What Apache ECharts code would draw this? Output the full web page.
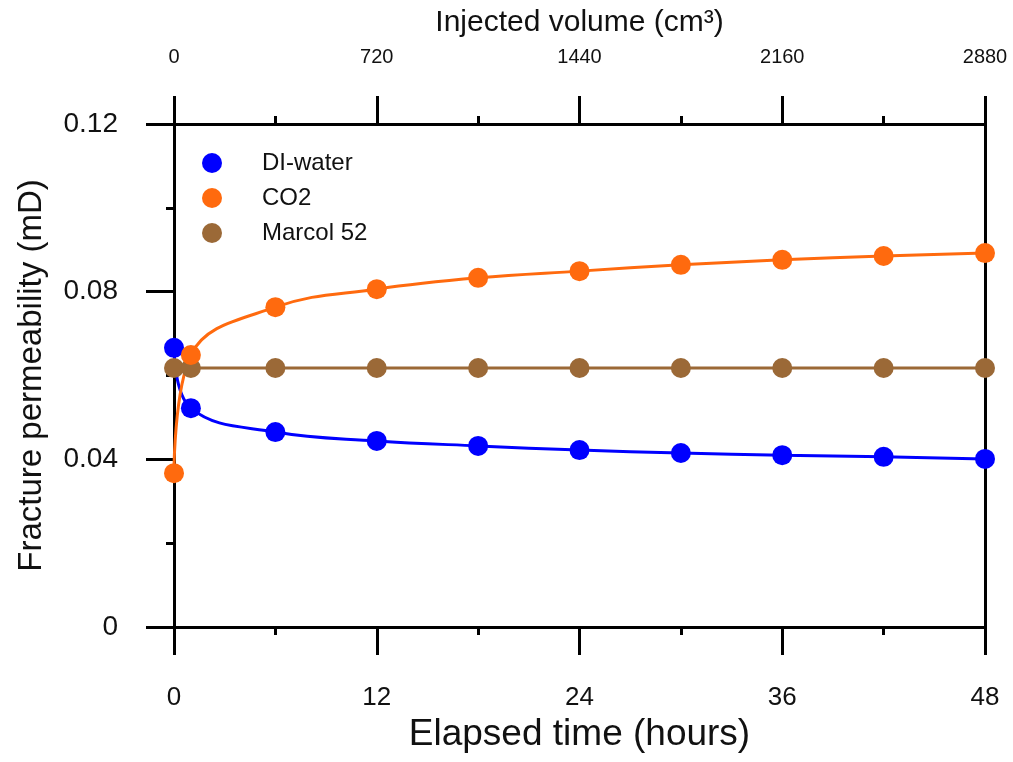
<!DOCTYPE html>
<html>
<head>
<meta charset="utf-8">
<script src="https://cdn.jsdelivr.net/npm/echarts@6/dist/echarts.min.js"></script>
<style>
  html, body { margin: 0; padding: 0; background: #fff; }
  #chart { width: 1013px; height: 762px; }
</style>
</head>
<body>
<div id="chart"></div>
<script>
// Elapsed time of each measurement (hours)
const hours = [0, 1, 6, 12, 18, 24, 30, 36, 42, 48];
// Fracture permeability (mD)
const diWater = [0.0666, 0.0522, 0.0465, 0.0444, 0.0432, 0.0422, 0.0415, 0.0410, 0.0406, 0.0401];
const co2 = [0.0367, 0.0649, 0.0763, 0.0806, 0.0833, 0.0849, 0.0864, 0.0876, 0.0885, 0.0892];
const marcol = [0.0618, 0.0618, 0.0618, 0.0618, 0.0618, 0.0618, 0.0618, 0.0618, 0.0618, 0.0618];

const FONT = '"Liberation Sans", Arial, sans-serif';
const pairs = (ys) => hours.map((h, i) => [h, ys[i]]);

const chart = echarts.init(document.getElementById('chart'));

// onZero off so the top axis stays on top instead of snapping to y = 0
const axisLine = { show: true, onZero: false, lineStyle: { color: '#000', width: 3 } };
const majorTick = { show: true, inside: false, length: 28, lineStyle: { color: '#000', width: 3 } };
const minorTick = { show: true, splitNumber: 2, length: 8, lineStyle: { color: '#000', width: 3 } };

function lineSeries(name, ys, color) {
  return {
    name,
    type: 'line',
    xAxisIndex: 0,
    yAxisIndex: 0,
    data: pairs(ys),
    smooth: 0.4,
    symbol: 'circle',
    symbolSize: 20,
    itemStyle: { color },
    lineStyle: { color, width: 3 },
    z: 3,
  };
}

chart.setOption({
  animation: false,
  grid: { left: 174, right: 28, top: 124, bottom: 135, containLabel: false },
  legend: {
    orient: 'vertical',
    left: 197,
    top: 146,
    itemGap: 11,
    icon: 'circle',
    itemWidth: 20,
    itemHeight: 20,
    textStyle: { fontFamily: FONT, fontSize: 24, color: '#111', padding: [0, 0, 0, 35] },
    data: ['DI-water', 'CO2', 'Marcol 52'],
  },
  xAxis: [
    {
      type: 'value',
      position: 'bottom',
      min: 0,
      max: 48,
      interval: 12,
      name: 'Elapsed time (hours)',
      nameLocation: 'middle',
      nameGap: 88,
      nameTextStyle: { fontFamily: FONT, fontSize: 37, color: '#111' },
      axisLine,
      axisTick: majorTick,
      minorTick,
      splitLine: { show: false },
      axisLabel: { fontFamily: FONT, fontSize: 26, color: '#111', margin: 58 },
    },
    {
      type: 'value',
      position: 'top',
      min: 0,
      max: 2880,
      interval: 720,
      name: 'Injected volume (cm³)',
      nameLocation: 'middle',
      nameGap: 86,
      nameTextStyle: { fontFamily: FONT, fontSize: 30, color: '#111' },
      axisLine,
      axisTick: majorTick,
      minorTick,
      splitLine: { show: false },
      axisLabel: {
        fontFamily: FONT,
        fontSize: 20,
        color: '#111',
        margin: 57,
        formatter: (v) => String(v),
      },
    },
  ],
  yAxis: [
    {
      type: 'value',
      position: 'left',
      min: 0,
      max: 0.12,
      interval: 0.04,
      name: 'Fracture permeability (mD)',
      nameLocation: 'middle',
      nameGap: 126,
      nameTextStyle: { fontFamily: FONT, fontSize: 33, color: '#111' },
      axisLine,
      axisTick: majorTick,
      minorTick,
      splitLine: { show: false },
      axisLabel: { fontFamily: FONT, fontSize: 28, color: '#111', margin: 56 },
    },
    {
      type: 'value',
      position: 'right',
      min: 0,
      max: 0.12,
      interval: 0.04,
      axisLine,
      axisTick: { show: false },
      axisLabel: { show: false },
      splitLine: { show: false },
    },
  ],
  series: [
    lineSeries('Marcol 52', marcol, '#9b6937'),
    lineSeries('DI-water', diWater, '#0000ff'),
    lineSeries('CO2', co2, '#ff6a0e'),
  ],
});
</script>
</body>
</html>
